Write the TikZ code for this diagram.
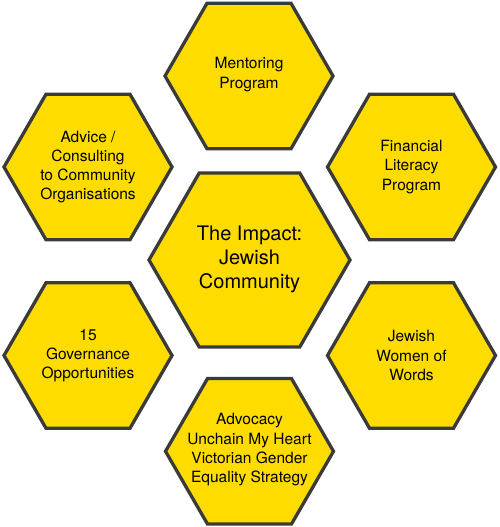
\documentclass[tikz,border=0pt]{standalone}
\usepackage{fontspec}
\setmainfont{TeX Gyre Heros}
\usetikzlibrary{shapes.geometric}
\definecolor{hexfill}{HTML}{FEDC00}
\definecolor{hexline}{HTML}{3A3A3A}
\begin{document}
\begin{tikzpicture}[x=1pt,y=-1pt,
  hexbase/.style={regular polygon, regular polygon sides=6, draw=hexline, fill=hexfill, line width=3.3pt, inner sep=0pt},
  smallhex/.style={hexbase, minimum size=168pt},
  bighex/.style={hexbase, minimum size=201pt},
  smalltxt/.style={align=center, inner sep=0pt, font=\fontsize{15.5}{19.2}\selectfont},
  bigtxt/.style={align=center, inner sep=0pt, font=\fontsize{20}{24}\selectfont}]
\useasboundingbox (0,0) rectangle (500,527);
\node[smallhex] (top) at (249,76) {};
\node[smallhex] (lt) at (88,167) {};
\node[smallhex] (rt) at (411.5,167) {};
\node[bighex] (mid) at (249.5,260) {};
\node[smallhex] (lb) at (88,355.5) {};
\node[smallhex] (rb) at (411.5,355.5) {};
\node[smallhex] (bot) at (249.5,451.3) {};
\node[smalltxt] (toptxt) at ([yshift=1.5pt]top.center) {Mentoring\\Program};
\node[smalltxt] (lttxt) at (lt.center) {Advice /\\Consulting\\to Community\\Organisations};
\node[smalltxt] (rttxt) at (rt.center) {Financial\\Literacy\\Program};
\node[bigtxt] (midtxt) at ([yshift=0.5pt]mid.center) {The Impact:\\Jewish\\Community};
\node[smalltxt] (lbtxt) at (lb.center) {15\\Governance\\Opportunities};
\node[smalltxt] (rbtxt) at (rb.center) {Jewish\\Women of\\Words};
\node[smalltxt] (bottxt) at ([yshift=1.5pt]bot.center) {Advocacy\\Unchain My Heart\\Victorian Gender\\Equality Strategy};
\end{tikzpicture}
\end{document}
